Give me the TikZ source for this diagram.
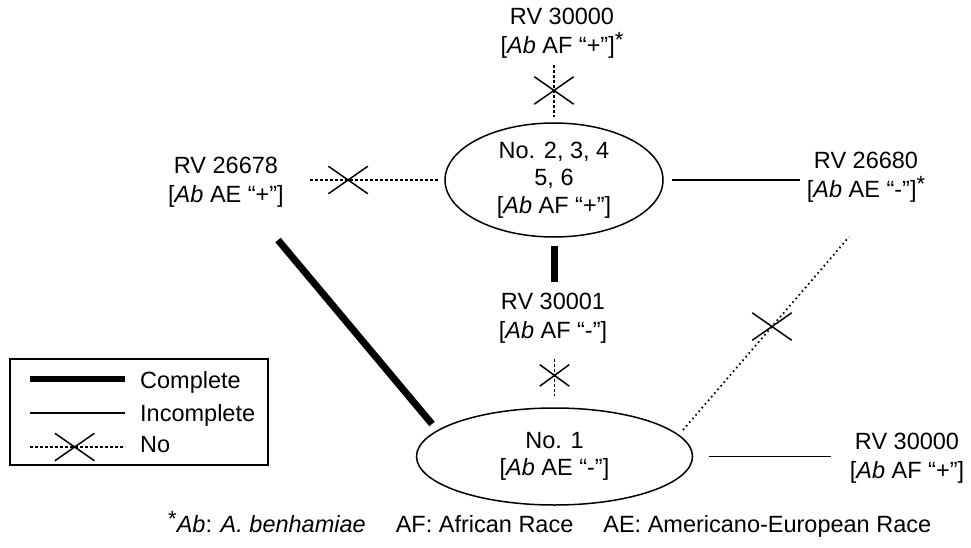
\documentclass[tikz,border=0pt]{standalone}
\usepackage{fontspec}
\setmainfont{Liberation Sans}
\usetikzlibrary{shapes.geometric,shapes.misc}
\newcommand\lbf{\fontsize{23.5}{29.5}\selectfont}
\newcommand\elf{\fontsize{23.5}{27.5}\selectfont}
\newcommand\sast{\raisebox{0.45ex}{\fontsize{22}{22}\selectfont *}}
\begin{document}
\begin{tikzpicture}[x=1pt,y=-1pt,
  lbl/.style={inner sep=0pt, align=center, font=\lbf},
  ell/.style={ellipse, draw, line width=1.5pt, inner sep=0pt, align=center, font=\elf},
  comp/.style={line width=7pt},
  inc/.style={line width=1.5pt},
  nol/.style={line width=1.3pt, dash pattern=on 3pt off 2pt},
  dotl/.style={line width=1.8pt, dash pattern=on 1.6pt off 3.2pt},
  xmk/.style={cross out, draw, solid, line width=1.5pt, inner sep=0pt, shorten <=0pt, shorten >=0pt, minimum width=38pt, minimum height=26pt},
  xsm/.style={xmk, minimum width=28pt, minimum height=20pt}]
\useasboundingbox (0,0) rectangle (971,548);
% nodes
\node[lbl] (t) at (562,33) {RV 30000\\\relax[\textit{Ab} AF “+”]\sast};
\node[ell, minimum width=218pt, minimum height=114pt] (E1) at (554,180) {No. 2, 3, 4\\5, 6\\\relax[\textit{Ab} AF “+”]};
\node[lbl] (L) at (226,182) {RV 26678\\\relax[\textit{Ab} AE “+”]};
\node[lbl] (R) at (866,177) {RV 26680\\\relax[\textit{Ab} AE “-”]\sast};
\node[lbl] (M) at (553,318) {RV 30001\\\relax[\textit{Ab} AF “-”]};
\node[ell, minimum width=276pt, minimum height=97pt] (E2) at (554.5,456.5) {No. 1\\\relax[\textit{Ab} AE “-”]};
\node[lbl] (B) at (907,458) {RV 30000\\\relax[\textit{Ab} AF “+”]};
% connectors
\draw[nol, shorten <=6pt, shorten >=5pt] (t.south -| E1.north) -- node[xmk, pos=0.5]{} (E1.north);
\draw[nol, shorten <=26pt, shorten >=5pt] (E1.west -| L.east) -- node[xmk, pos=0.4]{} (E1.west);
\draw[inc, shorten <=8pt, shorten >=7pt] (E1.east) -- (E1.east -| R.west);
\draw[comp, shorten <=8pt, shorten >=10pt] (E1.south) -- (E1.south |- M.north);
\draw[nol, shorten <=15pt, shorten >=11pt] (E2.north |- M.south) -- node[xsm, pos=0.5]{} (E2.north);
\draw[inc, shorten <=15.5pt, shorten >=19pt] (E2.east) -- (E2.east -| B.west);
\coordinate (d1) at (278,240);
\coordinate (d2) at (432,424);
\draw[comp] (d1) -- (d2);
\coordinate (p1) at (683,430);
\coordinate (p2) at (849,237);
\draw[dotl] (p1) -- node[xmk, pos=0.536]{} (p2);
% legend
\node[draw, line width=1.5pt, minimum width=258pt, minimum height=106pt, inner sep=0pt] (leg) at (139,412) {};
\coordinate (a1) at (30,379); \coordinate (b1) at (125,379);
\coordinate (a2) at (30,413); \coordinate (b2) at (125,413);
\coordinate (a3) at (30,447); \coordinate (b3) at (125,447);
\draw[comp, line width=6.5pt] (a1) -- (b1);
\draw[inc] (a2) -- (b2);
\draw[nol] (a3) -- node[xmk, pos=0.47]{} (b3);
\node[lbl, anchor=base west] (k1) at (140,388) {Complete};
\node[lbl, anchor=base west] (k2) at (140,421) {Incomplete};
\node[lbl, anchor=base west] (k3) at (140,452) {No};
% footnote
\node[lbl, anchor=base west] (fn) at (168,532) {\sast\textit{Ab}: \textit{A. benhamiae}\hspace{30pt}AF: African Race\hspace{30pt}AE: Americano-European Race};
\end{tikzpicture}
\end{document}
